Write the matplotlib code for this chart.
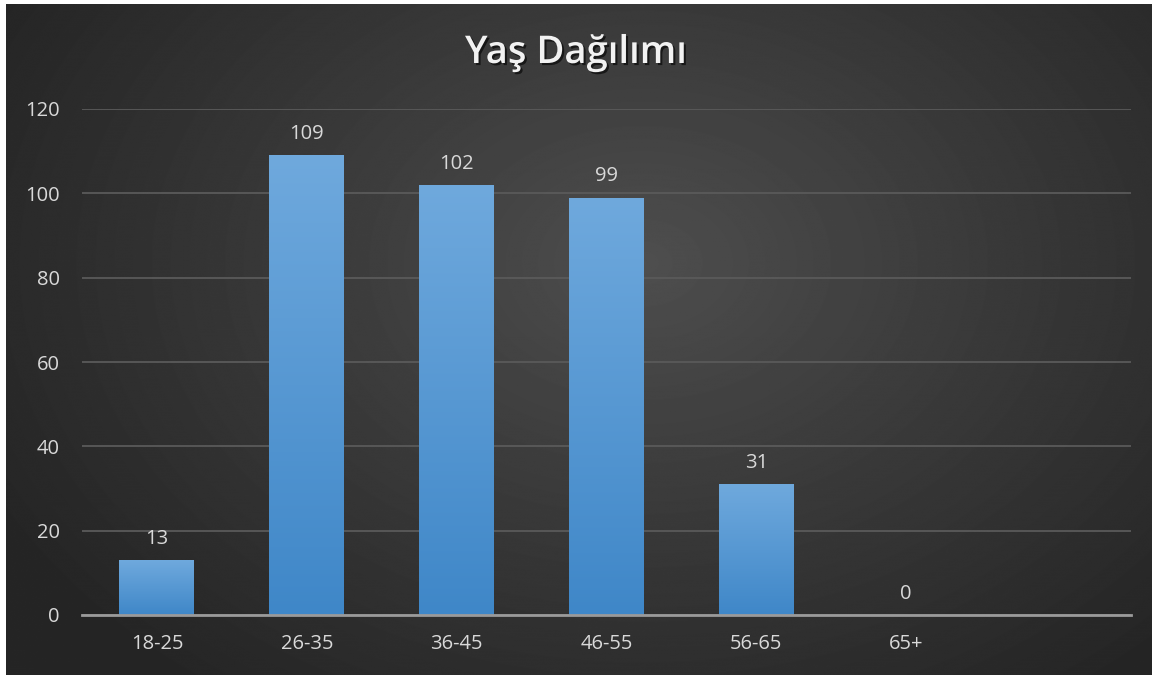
import numpy as np
import matplotlib.pyplot as plt
from matplotlib import patheffects as pe
from matplotlib.colors import LinearSegmentedColormap

plt.rcParams['font.family'] = ['Open Sans', 'DejaVu Sans']

title = "Yaş Dağılımı"
categories = ["18-25", "26-35", "36-45", "46-55", "56-65", "65+"]
counts = [13, 109, 102, 99, 31, 0]
n_slots = 7  # chart keeps an empty slot at the right end

fig = plt.figure(figsize=(11.52, 6.75), dpi=100, facecolor="white")

# radial dark background (white strip left/top like the screenshot)
bg = fig.add_axes([6 / 1152, 0, 1 - 6 / 1152, 1 - 4 / 675])
yy, xx = np.mgrid[0:675, 0:1152]
r = np.sqrt(((xx - 640) / 740) ** 2 + ((yy - 260) / 540) ** 2)
shade = 0.31 - 0.165 * np.clip(r, 0, 1) ** 0.9
bg.imshow(shade, cmap="gray", vmin=0, vmax=1, aspect="auto", interpolation="bilinear")
bg.set_axis_off()

ax = fig.add_axes([82 / 1152, 1 - 615 / 675, (1131 - 82) / 1152, (615 - 109) / 675])
ax.set_facecolor("none")
x = np.arange(len(categories))
bars = ax.bar(x, counts, width=0.5, color="#5599d5", zorder=3,
              path_effects=[pe.SimplePatchShadow(offset=(0, 0), shadow_rgbFace="black", alpha=0.35),
                            pe.Normal()])

grad = LinearSegmentedColormap.from_list("barblue", ["#3f87c8", "#6fa9dd"])
gimg = np.linspace(0, 1, 256).reshape(-1, 1)
for b in bars:
    if b.get_height() <= 0:
        continue
    x0, w, h = b.get_x(), b.get_width(), b.get_height()
    im = ax.imshow(gimg, cmap=grad, origin="lower", aspect="auto",
                   extent=(x0, x0 + w, 0, h), zorder=4)
    im.set_clip_path(b)

for xi, v in zip(x, counts):
    ax.annotate(str(v), (xi, v), xytext=(0, 8), textcoords="offset points",
                ha="center", va="bottom", fontsize=14.5, color="#d9d9d9", zorder=5)

ax.set_xlim(-0.5, n_slots - 0.5)
ax.set_ylim(0, 120)
ax.set_yticks(range(0, 121, 20))
ax.set_xticks(x)
ax.set_xticklabels(categories)
ax.tick_params(axis="both", length=0, labelsize=14.5, colors="#d9d9d9")
ax.tick_params(axis="x", pad=14)
ax.tick_params(axis="y", pad=16)
ax.grid(axis="y", color="#5a5a5a", linewidth=1.3, zorder=0)
for s in ["top", "right", "left"]:
    ax.spines[s].set_visible(False)
ax.spines["bottom"].set_color("#9a9a9a")
ax.spines["bottom"].set_linewidth(2)
ax.spines["bottom"].set_zorder(6)

fig.text(0.5, 1 - 53 / 675, title, ha="center", va="center", fontsize=27.5,
         fontweight="semibold", color="#f2f2f2",
         path_effects=[pe.withSimplePatchShadow(offset=(1.5, -1.5), shadow_rgbFace="black", alpha=0.6)])

fig.savefig("out.png", dpi=100, facecolor=fig.get_facecolor())
